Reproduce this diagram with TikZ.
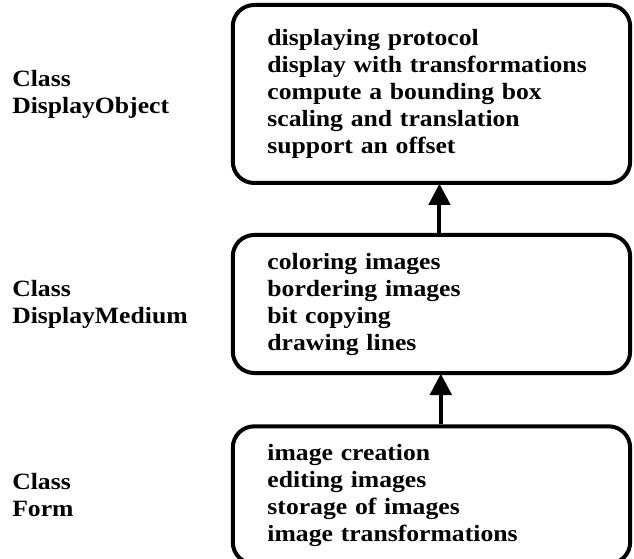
\documentclass[tikz,border=0pt]{standalone}
\usepackage{fontspec}
\setmainfont{Liberation Serif}[FakeStretch=1.1]
\usetikzlibrary{positioning,arrows.meta}

\tikzset{
  classbox/.style={draw, line width=3pt, rounded corners=16pt, minimum width=298pt,
    text width=246pt, align=left, inner xsep=26pt, inner ysep=0pt,
    font=\fontsize{17.5}{20.25}\selectfont\bfseries},
  classlbl/.style={anchor=west, align=left, inner sep=0pt,
    font=\fontsize{17.5}{20.25}\selectfont\bfseries},
  uparrow/.style={line width=3pt, -{Triangle[width=16pt,length=16pt]}, shorten >=-1pt}
}

\begin{document}
\begin{tikzpicture}
\useasboundingbox (0,0) rectangle (475.5pt,-419.25pt);
\coordinate (lx) at (9pt,0);
\node[classbox, minimum height=133.5pt] (obj) at (323.6pt,-70.5pt) {displaying protocol\\display with transformations\\compute a bounding box\\scaling and translation\\support an offset};
\node[classbox, minimum height=103.5pt, below=36pt of obj] (med) {coloring images\\bordering images\\bit copying\\drawing lines};
\node[classbox, minimum height=103pt, below=37pt of med] (form) {image creation\\editing images\\storage of images\\image transformations};
\node[classlbl] (objlbl) at (obj -| lx) {Class\\DisplayObject};
\node[classlbl] (medlbl) at (med -| lx) {Class\\DisplayMedium};
\node[classlbl] (formlbl) at (form -| lx) {Class\\Form};
\draw[uparrow] ([xshift=6pt]med.north) -- ([xshift=6pt]obj.south);
\draw[uparrow] ([xshift=7pt]form.north) -- ([xshift=7pt]med.south);
\end{tikzpicture}
\end{document}
